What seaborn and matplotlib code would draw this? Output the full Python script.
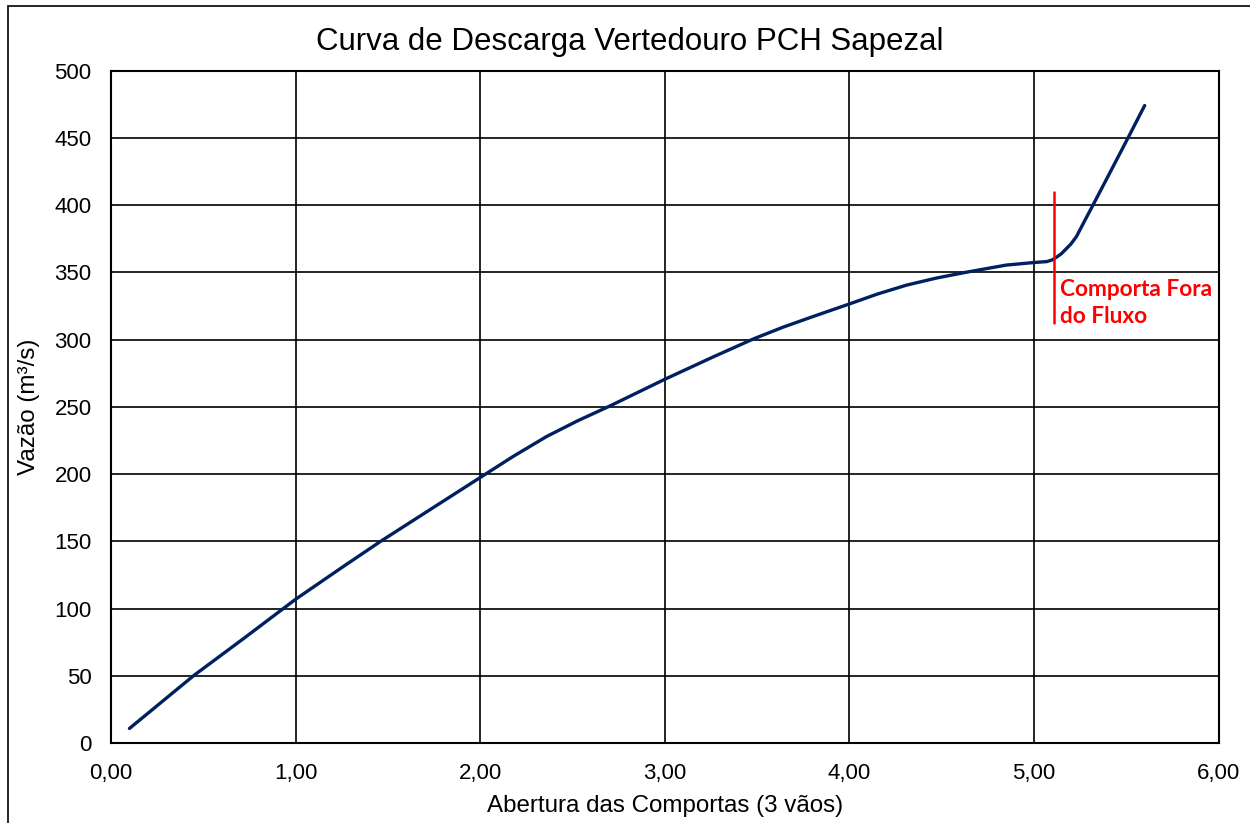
import numpy as np
import pandas as pd
import matplotlib
matplotlib.use('Agg')
import matplotlib.pyplot as plt
from matplotlib.patches import Rectangle
import seaborn as sns

# valores
abertura = [0.10, 0.45, 0.72, 1.00, 1.26, 1.46, 1.71, 2.00, 2.18, 2.36,
            2.53, 2.70, 3.00, 3.26, 3.48, 3.64, 3.80, 4.00, 4.155, 4.31,
            4.47, 4.63, 4.85, 5.00, 5.07, 5.10, 5.125, 5.15, 5.20, 5.23,
            5.27, 5.32, 5.40, 5.51, 5.60]
vazao = [11, 50.5, 78, 107, 131.5, 150, 172, 197.5, 213.3, 228,
         239.8, 250.5, 270.5, 287, 300.5, 309.2, 317, 326.5, 334, 340.5,
         345.7, 350, 355.4, 357.3, 358, 359.3, 361.5, 364, 371, 376.5,
         387, 400, 421, 450, 474]

x_ticks = [0, 1, 2, 3, 4, 5, 6]
x_tick_labels = ['0,00', '1,00', '2,00', '3,00', '4,00', '5,00', '6,00']
y_ticks = [0, 50, 100, 150, 200, 250, 300, 350, 400, 450, 500]

comporta_x = 5.11
comporta_y = [312, 410]

df = pd.DataFrame({'abertura': abertura, 'vazao': vazao})

sns.set_style('white')
plt.rcParams['font.family'] = ['Liberation Sans', 'DejaVu Sans']
plt.rcParams['text.color'] = 'black'
plt.rcParams['axes.labelcolor'] = 'black'

fig = plt.figure(figsize=(12.5, 8.23), dpi=100)
ax = fig.add_axes([0.0888, 0.0969, 0.8860, 0.8174])

sns.lineplot(data=df, x='abertura', y='vazao', ax=ax, sort=False,
             color='#002060', linewidth=2.4, zorder=3,
             solid_joinstyle='round', solid_capstyle='round')

ax.plot([comporta_x, comporta_x], comporta_y, color='#ff0000', linewidth=1.8, zorder=4)
ax.text(5.14, 345, 'Comporta Fora\ndo Fluxo', color='#ff0000', fontsize=16.3,
        fontweight='bold', family=['Lato', 'DejaVu Sans'], va='top', ha='left',
        linespacing=1.35, zorder=5)

ax.set_xlim(0, 6)
ax.set_ylim(0, 500)
ax.set_xticks(x_ticks)
ax.set_xticklabels(x_tick_labels)
ax.set_yticks(y_ticks)
ax.grid(True, color='black', linewidth=1.2)
ax.tick_params(length=0, labelsize=16, colors='black', pad=14)
for s in ax.spines.values():
    s.set_color('black')
    s.set_linewidth(1.5)

ax.set_xlabel('Abertura das Comportas (3 vãos)', fontsize=17.4, labelpad=8)
ax.set_ylabel('Vazão (m³/s)', fontsize=17.4, labelpad=10)
fig.text(0.504, 0.949, 'Curva de Descarga Vertedouro PCH Sapezal', fontsize=22.5,
         ha='center', va='center', color='black')

fig.patches.append(Rectangle((8 / 1250, -0.5), 2, 0.5 + 1 - 6 / 823,
                             transform=fig.transFigure, fill=False,
                             edgecolor='black', linewidth=1.2))

fig.savefig('out.png', dpi=100)
